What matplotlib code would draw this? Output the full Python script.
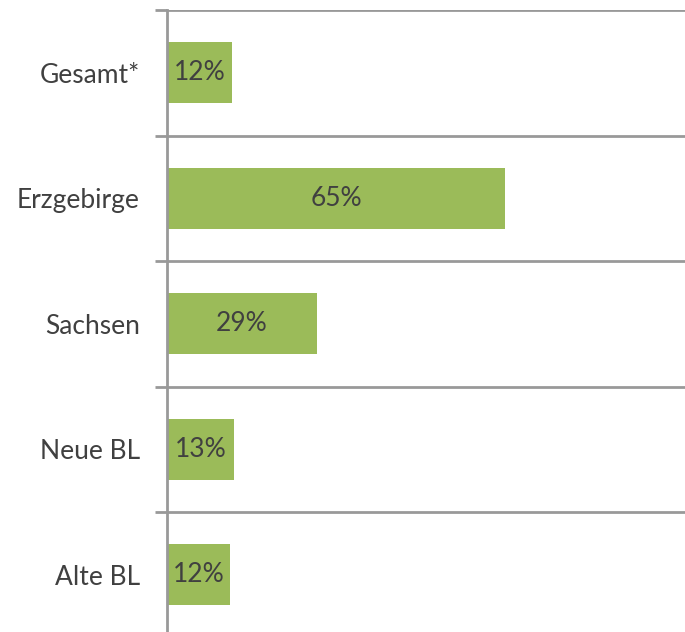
import matplotlib.pyplot as plt
import numpy as np

categories = ["Gesamt*", "Erzgebirge", "Sachsen", "Neue BL", "Alte BL"]
values = [12.5, 65.0, 28.8, 12.8, 12.1]
labels = ["12%", "65%", "29%", "13%", "12%"]

BAR_COLOR = "#9bbb59"
LINE_COLOR = "#999999"
TEXT_COLOR = "#404040"

plt.rcParams["font.family"] = ["Lato", "DejaVu Sans"]

fig = plt.figure(figsize=(6.85, 6.32), dpi=100)
ax = fig.add_axes([167 / 685, -5.5 / 632, 520 / 685, 627.5 / 632])

y = np.arange(len(categories))
bars = ax.barh(y, values, height=0.49, color=BAR_COLOR)
ax.bar_label(bars, labels=labels, label_type="center", color=TEXT_COLOR, fontsize=19)

ax.set_xlim(0, 100)
ax.set_ylim(len(categories) - 0.5, -0.5)

ax.set_yticks(y)
ax.set_yticklabels(categories, fontsize=19, color=TEXT_COLOR)
ax.tick_params(axis="y", which="major", length=0, pad=19.5)
ax.set_yticks(np.arange(len(categories) + 1) - 0.5, minor=True)
ax.tick_params(axis="y", which="minor", length=9, width=2, color=LINE_COLOR)
ax.grid(axis="y", which="minor", color=LINE_COLOR, linewidth=2)

ax.set_xticks([])
for side in ["top", "right", "bottom"]:
    ax.spines[side].set_visible(False)
ax.spines["left"].set_color(LINE_COLOR)
ax.spines["left"].set_linewidth(2)
ax.set_axisbelow(True)

fig.savefig("out.png", dpi=100)
plt.close(fig)
